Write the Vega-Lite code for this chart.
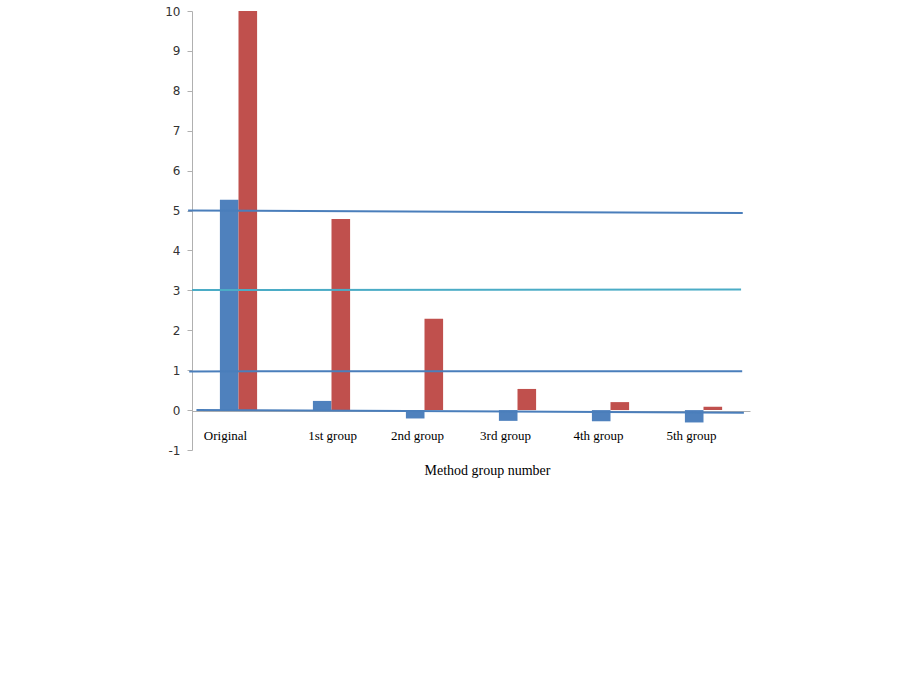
{
  "$schema": "https://vega.github.io/schema/vega-lite/v6.json",
  "width": 558,
  "height": 439,
  "autosize": {"type": "none"},
  "padding": {"left": 192, "top": 11, "right": 151, "bottom": 241},
  "background": "white",
  "config": {
    "view": {"stroke": null},
    "axisY": {
      "labelOverlap": false,
      "labelBound": false,
      "labelFlush": false,
      "grid": false,
      "domainColor": "#B0B0B0",
      "tickColor": "#B0B0B0",
      "tickSize": 5,
      "labelPadding": 7,
      "labelFont": "DejaVu Sans",
      "labelFontSize": 12,
      "labelColor": "#333333"
    }
  },
  "layer": [
    {
      "data": {
        "values": [
          {"group": "Original", "series": "Series 1", "value": 5.27},
          {"group": "Original", "series": "Series 2", "value": 10.0},
          {"group": "1st group", "series": "Series 1", "value": 0.23},
          {"group": "1st group", "series": "Series 2", "value": 4.79},
          {"group": "2nd group", "series": "Series 1", "value": -0.21},
          {"group": "2nd group", "series": "Series 2", "value": 2.29},
          {"group": "3rd group", "series": "Series 1", "value": -0.27},
          {"group": "3rd group", "series": "Series 2", "value": 0.53},
          {"group": "4th group", "series": "Series 1", "value": -0.28},
          {"group": "4th group", "series": "Series 2", "value": 0.2},
          {"group": "5th group", "series": "Series 1", "value": -0.31},
          {"group": "5th group", "series": "Series 2", "value": 0.085}
        ]
      },
      "mark": {"type": "bar"},
      "encoding": {
        "x": {
          "field": "group",
          "type": "nominal",
          "sort": ["Original", "1st group", "2nd group", "3rd group", "4th group", "5th group"],
          "scale": {"paddingInner": 0.6, "paddingOuter": 0.3},
          "axis": {
            "offset": -39,
            "ticks": false,
            "domainColor": "#B0B0B0",
            "domainWidth": 1,
            "labelAngle": 0,
            "labelFont": "Liberation Serif",
            "labelFontSize": 13,
            "labelColor": "#000000",
            "labelPadding": 18,
            "labelOffset": {
              "condition": [
                {"test": "datum.value === 'Original'", "value": -13},
                {"test": "datum.value === '1st group'", "value": 1},
                {"test": "datum.value === '2nd group'", "value": -7}
              ],
              "value": -12
            },
            "title": "Method group number",
            "titleFont": "Liberation Serif",
            "titleFontSize": 14,
            "titleFontWeight": "normal",
            "titleColor": "#000000",
            "titleX": 295,
            "titleY": 63,
            "titleAlign": "center",
            "titleAnchor": "middle",
            "titleBaseline": "alphabetic"
          }
        },
        "xOffset": {"field": "series", "sort": ["Series 1", "Series 2"]},
        "y": {
          "field": "value",
          "type": "quantitative",
          "scale": {"domain": [-1, 10], "nice": false, "zero": false},
          "axis": {
            "values": [-1, 0, 1, 2, 3, 4, 5, 6, 7, 8, 9, 10],
            "labelExpr": "datum.value + ''",
            "labelOverlap": false,
            "title": null
          }
        },
        "color": {
          "field": "series",
          "type": "nominal",
          "scale": {"domain": ["Series 1", "Series 2"], "range": ["#4F81BD", "#C0504D"]},
          "legend": null
        }
      }
    },
    {
      "data": {
        "values": [
          {"line": "L5", "x1": -0.007, "x2": 0.987, "y1": 5.0, "y2": 4.94},
          {"line": "L3", "x1": 0.0, "x2": 0.984, "y1": 3.01, "y2": 3.02},
          {"line": "L1", "x1": -0.005, "x2": 0.986, "y1": 0.97, "y2": 0.975},
          {"line": "L0", "x1": 0.008, "x2": 0.989, "y1": 0.0, "y2": -0.065}
        ]
      },
      "mark": {"type": "rule", "strokeWidth": 2, "clip": false},
      "encoding": {
        "x": {"field": "x1", "type": "quantitative", "scale": {"domain": [0, 1], "nice": false, "zero": false}, "axis": null},
        "x2": {"field": "x2"},
        "y": {
          "field": "y1",
          "type": "quantitative",
          "axis": {
            "values": [-1, 0, 1, 2, 3, 4, 5, 6, 7, 8, 9, 10],
            "labelExpr": "datum.value + ''",
            "labelOverlap": false,
            "title": null
          }
        },
        "y2": {"field": "y2"},
        "color": {
          "field": "line",
          "type": "nominal",
          "scale": {"domain": ["L5", "L3", "L1", "L0"], "range": ["#4A7EBB", "#4BACC6", "#4A7EBB", "#4A7EBB"]},
          "legend": null
        }
      }
    }
  ],
  "resolve": {"scale": {"x": "independent", "color": "independent"}}
}
